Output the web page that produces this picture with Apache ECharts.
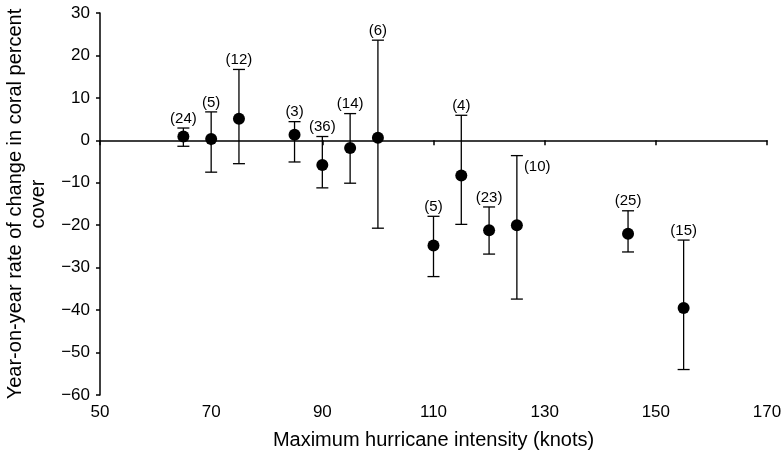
<!DOCTYPE html>
<html>
<head>
<meta charset="utf-8">
<script src="https://cdn.jsdelivr.net/npm/echarts@6/dist/echarts.min.js"></script>
<style>
  html, body { margin: 0; padding: 0; background: #fff; }
  #main { width: 782px; height: 463px; }
</style>
</head>
<body>
<div id="main"></div>
<script>
// hurricane intensity (knots)
const intensity = [65, 70, 75, 85, 90, 95, 100, 110, 115, 120, 125, 145, 155]
// mean rate of change and error bar ends
const meanChange = [0.9, 0.3, 5.1, 1.3, -5.8, -1.8, 0.6, -24.8, -8.3, -21.2, -20.0, -22.0, -39.5]
const upperEnd = [2.9, 6.7, 16.7, 4.4, 0.9, 6.3, 23.6, -17.9, 5.9, -15.7, -3.6, -16.6, -23.5]
const lowerEnd = [-1.4, -7.5, -5.5, -5.1, -11.2, -10.1, -20.7, -32.1, -19.8, -26.8, -37.4, -26.3, -54.0]
// sample sizes
const sampleN = [24, 5, 12, 3, 36, 14, 6, 5, 4, 23, 10, 25, 15]

const font = 'Liberation Sans, Arial, sans-serif'

const myChart = echarts.init(document.getElementById('main'))

const errData = intensity.map((x, i) => [x, upperEnd[i], lowerEnd[i], sampleN[i]])

myChart.setOption({
  animation: false,
  backgroundColor: '#fff',
  grid: { left: 100, right: 15, top: 13, bottom: 68, containLabel: false, outerBoundsMode: 'none' },
  xAxis: [
    {
      type: 'value',
      min: 50,
      max: 170,
      interval: 20,
      position: 'bottom',
      axisLine: { show: false, onZero: false },
      axisTick: { show: false },
      splitLine: { show: false },
      axisLabel: { color: '#000', fontSize: 17, fontFamily: font, margin: 9 },
      name: 'Maximum hurricane intensity (knots)',
      nameLocation: 'middle',
      nameGap: 35,
      nameTextStyle: { color: '#000', fontSize: 20, fontFamily: font }
    },
    {
      type: 'value',
      min: 50,
      max: 170,
      interval: 20,
      position: 'top',
      axisLine: { show: true, onZero: true, lineStyle: { color: '#000', width: 1.5 } },
      axisTick: { show: true, inside: true, length: 5, lineStyle: { color: '#000', width: 1.5 } },
      axisLabel: { show: false },
      splitLine: { show: false }
    }
  ],
  yAxis: {
    type: 'value',
    min: -60,
    max: 30,
    interval: 10,
    axisLine: { show: true, lineStyle: { color: '#000', width: 1.5 } },
    axisTick: { show: true, length: 4, lineStyle: { color: '#000', width: 1.5 } },
    splitLine: { show: false },
    axisLabel: {
      color: '#000', fontSize: 17, fontFamily: font, margin: 10,
      formatter: (v) => (v < 0 ? '\u2212' + Math.abs(v) : String(v))
    },
    name: 'Year-on-year rate of change in coral percent\ncover',
    nameLocation: 'middle',
    nameGap: 46,
    nameRotate: 90,
    nameTextStyle: { color: '#000', fontSize: 20, fontFamily: font, lineHeight: 23, align: 'center' }
  },
  series: [
    {
      type: 'custom',
      xAxisIndex: 0,
      data: errData,
      z: 2,
      renderItem: function (params, api) {
        const x = api.value(0)
        const top = api.coord([x, api.value(1)])
        const bot = api.coord([x, api.value(2)])
        const hw = 6
        const n = api.value(3)
        const style = { stroke: '#000', lineWidth: 1.3 }
        const isSide = n === 10
        return {
          type: 'group',
          children: [
            { type: 'line', shape: { x1: top[0], y1: top[1], x2: bot[0], y2: bot[1] }, style },
            { type: 'line', shape: { x1: top[0] - hw, y1: top[1], x2: top[0] + hw, y2: top[1] }, style },
            { type: 'line', shape: { x1: bot[0] - hw, y1: bot[1], x2: bot[0] + hw, y2: bot[1] }, style },
            {
              type: 'text',
              style: {
                text: '(' + n + ')',
                x: isSide ? top[0] + 7 : top[0],
                y: isSide ? top[1] + 11 : top[1] - 2,
                align: isSide ? 'left' : 'center',
                verticalAlign: isSide ? 'middle' : 'bottom',
                fill: '#000',
                font: '15px ' + font
              }
            }
          ]
        }
      }
    },
    {
      type: 'scatter',
      xAxisIndex: 0,
      data: intensity.map((x, i) => [x, meanChange[i]]),
      symbol: 'circle',
      symbolSize: 12,
      itemStyle: { color: '#000', opacity: 1 },
      z: 3
    }
  ]
})
</script>
</body>
</html>
